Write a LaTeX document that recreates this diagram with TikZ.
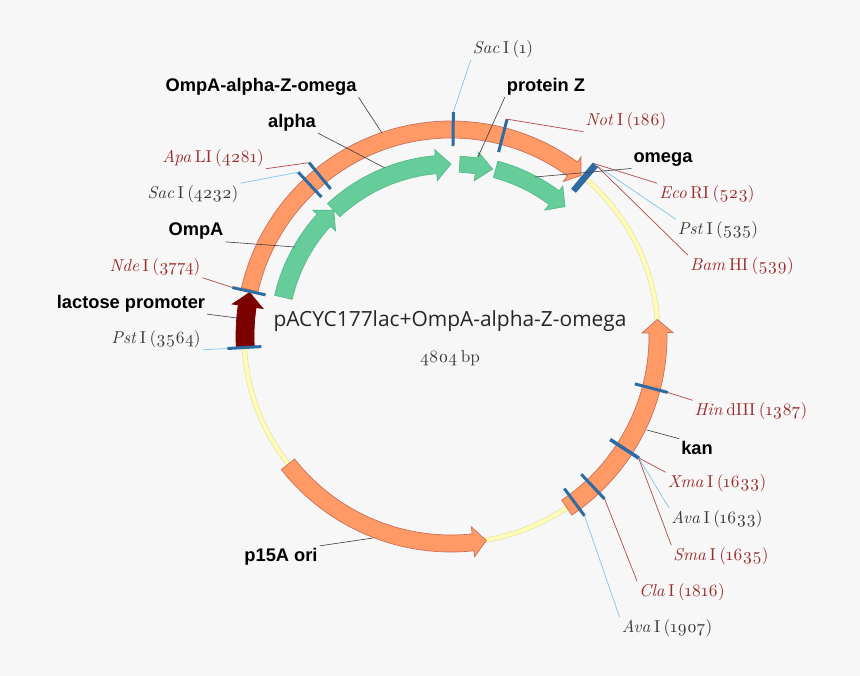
\documentclass[tikz,border=0pt]{standalone}
\usepackage{fontspec}
\setsansfont{Liberation Sans}
\newfontfamily\sitefont{Latin Modern Roman}[Numbers=OldStyle, WordSpace=0.6]
\newfontfamily\titlefont{Open Sans}
\usetikzlibrary{arrows.meta, positioning, calc}

\definecolor{pagebg}{HTML}{F7F7F7}
\definecolor{orangefill}{HTML}{FF9966}
\definecolor{orangeedge}{HTML}{C8705A}
\definecolor{greenfill}{HTML}{66CC99}
\definecolor{greenedge}{HTML}{55BB8E}
\definecolor{yellowfill}{HTML}{FFFBB8}
\definecolor{yellowedge}{HTML}{E6E0A4}
\definecolor{promoter}{HTML}{7B0000}
\definecolor{tickblue}{HTML}{2F6BA3}
\definecolor{sitered}{HTML}{9B2C2C}
\definecolor{sitedark}{HTML}{3A3A3A}
\definecolor{leadred}{HTML}{B04A4A}
\definecolor{leadblue}{HTML}{85C5E8}

% style, start angle, head base angle, tip angle, inner radius, outer radius
\newcommand{\ringarrow}[6]{%
    \draw[#1] (#2:#6) arc[start angle=#2, end angle=#3, radius=#6]
        -- (#3:{#6+6}) -- (#4:{(#5+#6)/2}) -- (#3:{#5-7}) -- (#3:#5)
        arc[start angle=#3, end angle=#2, radius=#5] -- cycle;
}

\begin{document}
\begin{tikzpicture}[
    x=0.02cm, y=0.02cm,
    backbone/.style={draw=yellowedge, fill=yellowfill, line width=0.3pt, even odd rule},
    orangearrow/.style={draw=orangeedge, fill=orangefill, line width=0.4pt},
    greenarrow/.style={draw=greenedge, fill=greenfill, line width=0.4pt},
    promoterarrow/.style={draw=promoter, fill=promoter, line width=0.4pt},
    sitetick/.style={draw=tickblue, line width=1.7pt},
    feature/.style={font=\sffamily\bfseries\fontsize{10.4}{12}\selectfont, inner sep=1pt},
    redsite/.style={font=\sitefont\fontsize{9.8}{12}\selectfont, text=sitered, inner sep=1pt},
    darksite/.style={font=\sitefont\fontsize{9.8}{12}\selectfont, text=sitedark, inner sep=1pt},
    featline/.style={draw=black!75, line width=0.35pt},
    redline/.style={draw=leadred, line width=0.4pt},
    blueline/.style={draw=leadblue, line width=0.4pt}
]
    \useasboundingbox[fill=pagebg] (0,0) rectangle (860,-676);

    % --- Plasmid ring and arrows ---
    \begin{scope}[shift={(451,-336)}]
        \path[backbone] (0,0) circle[radius=209.3] (0,0) circle[radius=204.7];

        \ringarrow{orangearrow}{167}{54}{51}{198}{215}
        \ringarrow{orangearrow}{-56}{0.9}{4.6}{198}{216}
        \ringarrow{orangearrow}{218.2}{276.1}{279.8}{199}{216}
        \ringarrow{promoterarrow}{183}{171.7}{167.8}{197}{215}

        \ringarrow{greenarrow}{167}{137.7}{133}{163}{181}
        \ringarrow{greenarrow}{133}{95}{90}{163}{181}
        \ringarrow{greenarrow}{87.1}{81.5}{76}{164}{180}
        \ringarrow{greenarrow}{75}{53.3}{48.6}{164}{181}

        % --- Restriction sites: name/angle ---
        \foreach \tname/\tangle in {tSacA/89.4, tNot/75.5, tEco/50.35, tPstA/49.85, tBam/49.35,
                tHin/-14.6, tXma/-33, tAvaA/-33, tSma/-33.1, tCla/-46.7, tAvaB/-53.4,
                tApa/129.3, tSacB/133, tNde/167.5, tPstB/183.2} {
            \draw[sitetick] (\tangle:190) -- (\tangle:224) coordinate (\tname);
        }
    \end{scope}

    % --- Title ---
    \node[font=\titlefont\fontsize{11.9}{14}\selectfont, text=black!85] (title) at (450,-321)
        {pACYC177lac+OmpA-alpha-Z-omega};
    \node[darksite] (size) at (450,-358) {4804 bp};

    % --- Site labels ---
    \node[darksite] (lSacA) at (503,-49) {\textit{Sac} I (1)};
    \node[redsite]  (lNot)  at (626,-121) {\textit{Not} I (186)};
    \node[redsite]  (lEco)  at (707,-194) {\textit{Eco} RI (523)};
    \node[darksite] (lPstA) at (718,-230) {\textit{Pst} I (535)};
    \node[redsite]  (lBam)  at (742,-266) {\textit{Bam} HI (539)};
    \node[redsite]  (lHin)  at (751,-411) {\textit{Hin} dIII (1387)};
    \node[redsite]  (lXma)  at (717,-483) {\textit{Xma} I (1633)};
    \node[darksite] (lAvaA) at (717,-519) {\textit{Ava} I (1633)};
    \node[redsite]  (lSma)  at (721,-556) {\textit{Sma} I (1635)};
    \node[redsite]  (lCla)  at (682,-592) {\textit{Cla} I (1816)};
    \node[darksite] (lAvaB) at (667,-628) {\textit{Ava} I (1907)};
    \node[redsite]  (lApa)  at (213,-158) {\textit{Apa} LI (4281)};
    \node[darksite] (lSacB) at (193,-194) {\textit{Sac} I (4232)};
    \node[redsite]  (lNde)  at (155,-267) {\textit{Nde} I (3774)};
    \node[darksite] (lPstB) at (156,-339) {\textit{Pst} I (3564)};

    % --- Site leaders ---
    \draw[blueline] (tSacA) -- (lSacA.south west);
    \draw[redline]  (tNot)  -- (lNot.south west);
    \draw[redline]  (tEco)  -- (lEco.north west);
    \draw[blueline] (tPstA) -- (lPstA.north west);
    \draw[redline]  (tBam)  -- (lBam.north west);
    \draw[redline]  (tHin)  -- (lHin.north west);
    \draw[redline]  (tXma)  -- (lXma.north west);
    \draw[blueline] (tAvaA) -- (lAvaA.north west);
    \draw[redline]  (tSma)  -- (lSma.north west);
    \draw[redline]  (tCla)  -- (lCla.north west);
    \draw[blueline] (tAvaB) -- (lAvaB.north west);
    \draw[redline]  (tApa)  -- (lApa.south east);
    \draw[blueline] (tSacB) -- (lSacB.north east);
    \draw[redline]  (tNde)  -- (lNde.south east);
    \draw[blueline] (tPstB) -- (lPstB.south east);

    % --- Feature labels ---
    \node[feature] (lFusion) at (261,-86.5)  {OmpA-alpha-Z-omega};
    \node[feature] (lAlpha)  at (292,-122.5) {alpha};
    \node[feature] (lOmpA)   at (196,-231.5) {OmpA};
    \node[feature] (lLac)    at (131,-303.5) {lactose promoter};
    \node[feature] (lZ)      at (546,-86.5)  {protein Z};
    \node[feature] (lOmega)  at (663,-159.5) {omega};
    \node[feature] (lKan)    at (697,-447.5) {kan};
    \node[feature] (lOri)    at (281,-556.5) {p15A ori};

    % --- Feature leaders ---
    \coordinate (pFusion) at (382,-133);
    \coordinate (pAlpha)  at (385,-168);
    \coordinate (pOmpA)   at (295,-247);
    \coordinate (pLac)    at (237,-318);
    \coordinate (pZ)      at (478,-157);
    \coordinate (pOmega)  at (535,-177);
    \coordinate (pKan)    at (647,-430);
    \coordinate (pOri)    at (373,-538);
    \draw[featline] (lFusion.south east) -- (pFusion);
    \draw[featline] (lAlpha.south east)  -- (pAlpha);
    \draw[featline] (lOmpA.south east)   -- (pOmpA);
    \draw[featline] (lLac.south east)    -- (pLac);
    \draw[featline] (lZ.south west)      -- (pZ);
    \draw[featline] (lOmega.south west)  -- (pOmega);
    \draw[featline] (lKan.north west)    -- (pKan);
    \draw[featline] (lOri.north east)    -- (pOri);
\end{tikzpicture}
\end{document}
